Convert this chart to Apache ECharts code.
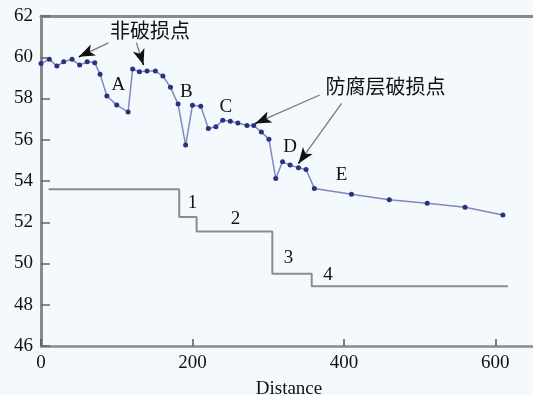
<!DOCTYPE html>
<html>
<head>
<meta charset="utf-8">
<script src="https://cdn.jsdelivr.net/npm/echarts@6/dist/echarts.min.js"></script>
<style>
  html, body { margin: 0; padding: 0; background: #f4f9fd; }
  #chart { width: 533px; height: 395px; }
</style>
</head>
<body>
<div id="chart"></div>
<script>
// Pipe potential profile along the line (measured points)
var distance = [0, 11, 21, 30, 41, 51, 61, 71, 78, 87, 100, 115, 121, 130, 140, 151, 161, 171, 181, 191,
  200, 211, 221, 231, 240, 250, 260, 272, 281, 291, 301, 310, 319, 329, 340, 350, 361, 410, 460, 510, 560, 610];
var potential = [59.70, 59.90, 59.57, 59.78, 59.90, 59.62, 59.78, 59.73, 59.18, 58.12, 57.68, 57.35, 59.43, 59.30,
  59.33, 59.33, 59.09, 58.54, 57.73, 55.74, 57.67, 57.63, 56.55, 56.63, 56.95, 56.90, 56.81, 56.69, 56.69, 56.37,
  56.03, 54.12, 54.93, 54.77, 54.64, 54.56, 53.64, 53.36, 53.09, 52.92, 52.73, 52.35];

// Coating grade levels (stepped), each level starts at the given distance
var stepStart = [10, 182.5, 205.5, 305.5, 357.5, 616.6];
var stepLevel = [53.6, 52.25, 51.55, 49.5, 48.9, 48.9];

// Section letters and segment numbers: [text, distance, value]
var sectionLabels = [['A', 102, 58.65], ['B', 192, 58.31], ['C', 244, 57.58], ['D', 329, 55.64], ['E', 397, 54.28]];
var segmentLabels = [['1', 200, 52.94], ['2', 257, 52.18], ['3', 327, 50.29], ['4', 379, 49.43]];
var noteLabels = [['非破损点', 144, 61.32], ['防腐层破损点', 455, 58.57]];

// Leader arrows: [fromX, fromY, toX, toY]
var arrows = [[89, 60.70, 50, 60.02], [126, 60.70, 135.4, 59.62], [368, 58.17, 283, 56.79], [397, 57.76, 340, 54.85]];

var yTicks = [46, 48, 50, 52, 54, 56, 58, 60, 62];
var xTicks = [0, 200, 400, 600];

var serif = '"Liberation Serif", "DejaVu Serif", serif';
var cjk = '"Noto Sans CJK SC", sans-serif';

function textPoint(item, font, size) {
  return {
    coord: [item[1], item[2]], value: item[0],
    symbol: 'circle', symbolSize: 0,
    label: { show: true, position: 'inside', formatter: item[0], color: '#111',
      fontFamily: font, fontSize: size }
  };
}

var markPoints = sectionLabels.map(function (d) { return textPoint(d, serif, 19); })
  .concat(segmentLabels.map(function (d) { return textPoint(d, serif, 19); }))
  .concat(noteLabels.map(function (d) { return textPoint(d, cjk, 20); }));

var markLines = [];
arrows.forEach(function (a) {
  markLines.push([
    { coord: [a[0], a[1]], symbol: 'none', lineStyle: { color: '#7a7a7a', width: 1.3, type: 'solid' } },
    { coord: [a[2], a[3]], symbol: 'none' }
  ]);
  var f = 0.9;
  markLines.push([
    { coord: [a[0] + (a[2] - a[0]) * f, a[1] + (a[3] - a[1]) * f], symbol: 'none',
      lineStyle: { color: '#111', width: 1.5, type: 'solid' } },
    { coord: [a[2], a[3]], symbol: 'arrow', symbolSize: [9, 16] }
  ]);
});

var chart = echarts.init(document.getElementById('chart'));
chart.setOption({
  backgroundColor: '#f4f9fd',
  animation: false,
  grid: { left: 41, right: -4, top: 16, bottom: 49, containLabel: false, outerBoundsMode: 'none' },
  xAxis: [{
    type: 'value', min: 0, max: 655, interval: 200,
    name: 'Distance', nameLocation: 'middle', nameGap: 34,
    nameTextStyle: { fontFamily: serif, fontSize: 19, color: '#111' },
    axisLine: { show: true, lineStyle: { color: '#8a8a8a', width: 2.5 } },
    axisTick: { show: true, inside: true, length: 7, lineStyle: { color: '#555', width: 1.5 } },
    axisLabel: { fontFamily: serif, fontSize: 19, color: '#111', margin: 8,
      formatter: function (v) { return xTicks.indexOf(v) >= 0 ? String(v) : ''; } },
    splitLine: { show: false }
  }, {
    type: 'value', min: 0, max: 655, position: 'top',
    axisLine: { show: true, lineStyle: { color: '#8a8a8a', width: 3 } },
    axisTick: { show: false }, axisLabel: { show: false }, splitLine: { show: false }
  }],
  yAxis: {
    type: 'value', min: 46, max: 62, interval: 2,
    axisLine: { show: true, lineStyle: { color: '#8a8a8a', width: 3 } },
    axisTick: { show: true, inside: true, length: 9, lineStyle: { color: '#666', width: 1.5 } },
    axisLabel: { fontFamily: serif, fontSize: 19, color: '#111', margin: 8,
      formatter: function (v) { return yTicks.indexOf(v) >= 0 ? String(v) : ''; } },
    splitLine: { show: false }
  },
  series: [{
    type: 'line',
    data: distance.map(function (d, i) { return [d, potential[i]]; }),
    symbol: 'circle', symbolSize: 5, showSymbol: true,
    lineStyle: { color: '#8088c0', width: 1.5 },
    itemStyle: { color: '#2c3080' },
    z: 3
  }, {
    type: 'line', step: 'end',
    data: stepStart.map(function (d, i) { return [d, stepLevel[i]]; }),
    symbol: 'none',
    lineStyle: { color: '#8c8c8c', width: 2 },
    z: 2
  }, {
    type: 'line', data: [],
    markPoint: { data: markPoints, silent: true },
    markLine: { data: markLines, silent: true, animation: false,
      label: { show: false }, symbol: ['none', 'none'] }
  }]
});
</script>
</body>
</html>
